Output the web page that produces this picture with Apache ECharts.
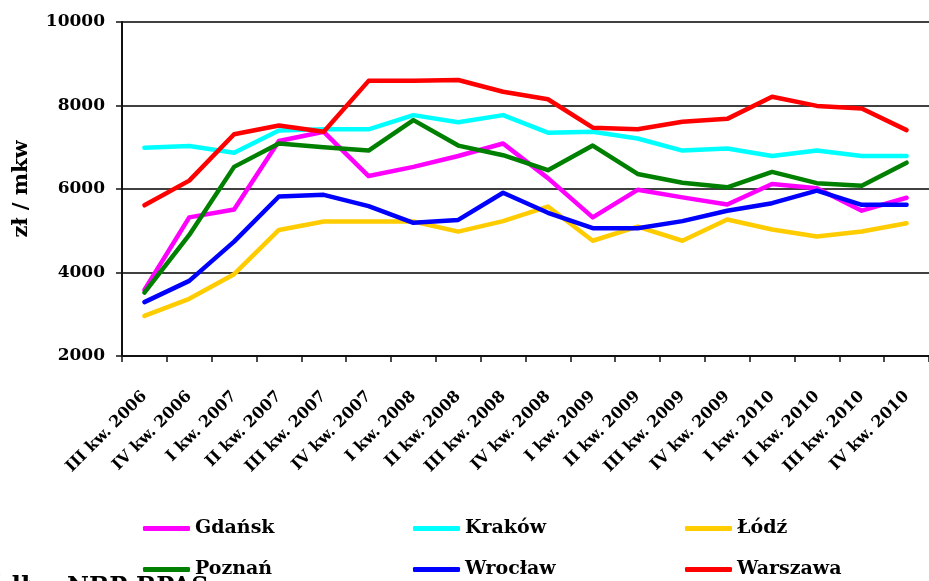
<!DOCTYPE html>
<html>
<head>
<meta charset="utf-8">
<script src="https://cdn.jsdelivr.net/npm/echarts@6/dist/echarts.min.js"></script>
<style>
    html, body { margin: 0; padding: 0; background: #fff; }
    #chart { width: 929px; height: 581px; }
</style>
</head>
<body>
<div id="chart"></div>
<script>
// kwartały
const categories = ['III kw. 2006', 'IV kw. 2006', 'I kw. 2007', 'II kw. 2007', 'III kw. 2007', 'IV kw. 2007',
    'I kw. 2008', 'II kw. 2008', 'III kw. 2008', 'IV kw. 2008', 'I kw. 2009', 'II kw. 2009',
    'III kw. 2009', 'IV kw. 2009', 'I kw. 2010', 'II kw. 2010', 'III kw. 2010', 'IV kw. 2010']

// ceny zł / mkw
const gdansk = [3580, 5320, 5510, 7150, 7370, 6310, 6530, 6790, 7090, 6260, 5320, 5980, 5800, 5630, 6120, 6020, 5480, 5790]
const krakow = [6990, 7030, 6870, 7400, 7430, 7430, 7770, 7600, 7770, 7350, 7370, 7210, 6920, 6970, 6790, 6920, 6790, 6790]
const lodz = [2960, 3370, 3960, 5020, 5220, 5220, 5220, 4980, 5230, 5580, 4760, 5100, 4760, 5270, 5030, 4860, 4980, 5180]
const poznan = [3520, 4900, 6530, 7090, 7000, 6920, 7650, 7040, 6810, 6450, 7040, 6360, 6150, 6040, 6410, 6140, 6080, 6630]
const wroclaw = [3290, 3800, 4740, 5820, 5860, 5590, 5190, 5260, 5910, 5430, 5060, 5060, 5230, 5480, 5660, 5960, 5620, 5620]
const warszawa = [5610, 6200, 7310, 7520, 7370, 8590, 8590, 8610, 8330, 8150, 7470, 7430, 7610, 7680, 8210, 7990, 7930, 7410]

const yTicks = { min: 2000, max: 10000, interval: 2000 }

const font = 'DejaVu Serif'

function line(name, color, data) {
    return {
        name: name,
        type: 'line',
        data: data,
        symbol: 'none',
        color: color,
        lineStyle: { color: color, width: 4.5, cap: 'round', join: 'round' },
        animation: false,
    }
}

// jedna legenda na pozycję (3 kolumny x 2 wiersze)
function legend(left, top, name) {
    return {
        left: left,
        top: top,
        padding: 0,
        data: [name],
        icon: 'roundRect',
        itemWidth: 47,
        itemHeight: 5,
        textStyle: { fontFamily: font, fontWeight: 'bold', fontSize: 19, color: '#000' },
    }
}

const chart = echarts.init(document.getElementById('chart'))
chart.setOption({
    backgroundColor: '#fff',
    grid: { left: 122, top: 22, width: 810, height: 334, containLabel: false },
    legend: [
        legend(143, 519, 'Gdańsk'),
        legend(413, 519, 'Kraków'),
        legend(685, 519, 'Łódź'),
        legend(143, 560, 'Poznań'),
        legend(413, 560, 'Wrocław'),
        legend(685, 560, 'Warszawa'),
    ],
    xAxis: {
        type: 'category',
        data: categories,
        boundaryGap: true,
        axisLine: { lineStyle: { color: '#111', width: 2 } },
        axisTick: { show: true, length: 6, lineStyle: { color: '#111', width: 1.5 } },
        axisLabel: {
            rotate: 45,
            margin: 38,
            interval: 0,
            fontFamily: font,
            fontWeight: 'bold',
            fontSize: 16,
            color: '#000',
        },
    },
    yAxis: {
        type: 'value',
        min: yTicks.min,
        max: yTicks.max,
        interval: yTicks.interval,
        name: 'zł / mkw',
        nameLocation: 'middle',
        nameGap: 90,
        nameTextStyle: { fontFamily: font, fontWeight: 'bold', fontSize: 21, color: '#000' },
        axisLine: { show: true, lineStyle: { color: '#111', width: 2 } },
        axisTick: { show: true, length: 6, lineStyle: { color: '#111', width: 1.5 } },
        axisLabel: {
            margin: 17,
            fontFamily: font,
            fontWeight: 'bold',
            fontSize: 17,
            color: '#000',
            formatter: (v) => String(v),
        },
        splitLine: { show: true, lineStyle: { color: '#000', width: 1.5 } },
    },
    series: [
        line('Gdańsk', '#FF00FF', gdansk),
        line('Kraków', '#00FFFF', krakow),
        line('Łódź', '#FFCC00', lodz),
        line('Poznań', '#008000', poznan),
        line('Wrocław', '#0000FF', wroclaw),
        line('Warszawa', '#FF0000', warszawa),
    ],
    graphic: [
        {
            type: 'text',
            x: 55,
            y: 576,
            z: -1,
            style: { text: 'Źródło:', align: 'right', verticalAlign: 'top', fontFamily: font, fontWeight: 'bold', fontSize: 24, fill: '#000' },
        },
        {
            type: 'text',
            x: 67,
            y: 576,
            z: -1,
            style: { text: 'NBP-BPAS', align: 'left', verticalAlign: 'top', fontFamily: font, fontWeight: 'bold', fontSize: 24, fill: '#000' },
        },
    ],
})
</script>
</body>
</html>
